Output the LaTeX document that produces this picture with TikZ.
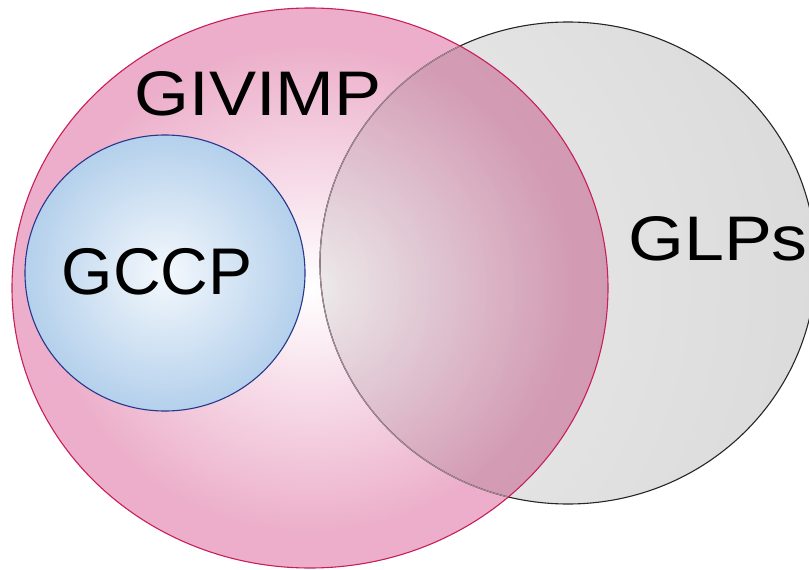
\documentclass[tikz,border=0pt]{standalone}
\usepackage{fontspec}
\setmainfont{Liberation Sans}
\usepackage{xcolor}
\usepackage{tikz}
\definecolor{givpink}{RGB}{236,174,202}
\definecolor{givline}{RGB}{200,30,90}
\definecolor{glpgray}{RGB}{216,216,216}
\definecolor{glpedge}{RGB}{165,140,152}
\definecolor{gccpblue}{RGB}{180,208,236}
\definecolor{gccpline}{RGB}{38,56,140}
\pgfdeclareradialshading{glpglow}{\pgfpoint{-46bp}{-4bp}}{color(0bp)=(white!70!glpgray); color(55bp)=(glpgray); color(100bp)=(glpgray)}
\pgfdeclareradialshading{givglow}{\pgfpoint{0bp}{0bp}}{color(0bp)=(white); color(22bp)=(givpink); color(100bp)=(givpink)}

\begin{document}
\begin{tikzpicture}[x=1pt, y=-1pt]
        \useasboundingbox (0,0) rectangle (809,570);
        % GLPs set
        \shade[shading=glpglow] (568,263) ellipse [x radius=248, y radius=241];
        \draw[black!85, line width=1.1pt] (568,263) ellipse [x radius=248, y radius=241];
        % GIVIMP set, multiplied over the grey one
        \begin{scope}[blend mode=multiply]
          \shade[shading=givglow] (310,288) ellipse [x radius=298, y radius=280];
        \end{scope}
        \begin{scope}
          \clip (310,288) ellipse [x radius=298, y radius=280];
          \draw[glpedge, line width=1.1pt] (568,263) ellipse [x radius=248, y radius=241];
        \end{scope}
        \draw[givline, line width=1.1pt] (310,288) ellipse [x radius=298, y radius=280];
        % GCCP set
        \shade[inner color=white!85!gccpblue, outer color=gccpblue] (165,273) ellipse [x radius=140, y radius=138];
        \draw[gccpline, line width=1.1pt] (165,273) ellipse [x radius=140, y radius=138];
        % labels
        \node[anchor=base, inner sep=0pt] (givimp) at (258,115) {\fontsize{63}{63}\selectfont\scalebox{1.12}[1]{GIVIMP}};
        \node[anchor=base, inner sep=0pt] (gccp) at (157,294) {\fontsize{66}{66}\selectfont GCCP};
        \node[anchor=base, inner sep=0pt] (glps) at (718,260) {\fontsize{63}{63}\selectfont\scalebox{1.14}[1]{GLPs}};
      \end{tikzpicture}
\end{document}
